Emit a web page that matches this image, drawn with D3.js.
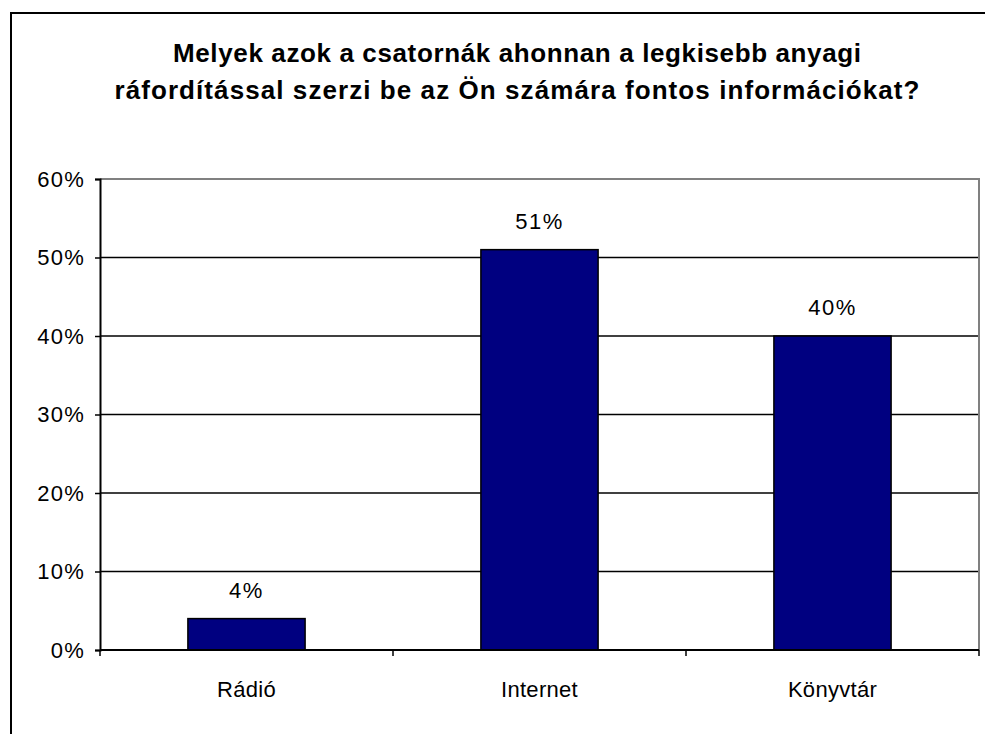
<!DOCTYPE html>
<html>
<head>
<meta charset="utf-8">
<script src="https://cdn.jsdelivr.net/npm/d3@7"></script>
<style>
  html, body { margin: 0; padding: 0; background: #fff; }
  svg { display: block; }
  text { font-family: "Liberation Sans", Arial, sans-serif; fill: #000; }
</style>
</head>
<body>
<svg id="chart" width="985" height="734"></svg>
<script>
// Survey answers: cheapest channels for getting important information
const categories = ["Rádió", "Internet", "Könyvtár"];
const values = [4, 51, 40];           // percent of respondents
const yTicks = [0, 10, 20, 30, 40, 50, 60];
const titleLines = [
  "Melyek azok a csatornák ahonnan a legkisebb anyagi",
  "ráfordítással szerzi be az Ön számára fontos információkat?"
];

const svg = d3.select("#chart");
const plot = { left: 100, right: 979, top: 179, bottom: 650 };

// outer chart frame (runs past the right and bottom edges)
svg.append("rect")
  .attr("x", 11).attr("y", 13)
  .attr("width", 1100).attr("height", 1000)
  .attr("fill", "#fff").attr("stroke", "#000").attr("stroke-width", 2);

// title, two centred bold lines
const titleSpec = [
  { y: 62, len: 688 },
  { y: 99, len: 805 }
];
titleLines.forEach((t, i) => {
  svg.append("text")
    .attr("x", 517).attr("y", titleSpec[i].y)
    .attr("text-anchor", "middle")
    .attr("font-family", "'Liberation Sans Narrow', 'Liberation Sans', Arial, sans-serif")
    .attr("font-size", 26).attr("font-weight", "bold")
    .attr("textLength", titleSpec[i].len)
    .attr("lengthAdjust", "spacing")
    .text(t);
});

const x = d3.scaleBand()
  .domain(categories)
  .range([plot.left, plot.right])
  .paddingInner(0.6).paddingOuter(0.3);

const xBounds = d3.scaleLinear().domain([0, categories.length]).range([plot.left, plot.right]);

const y = d3.scaleLinear().domain([0, 60]).range([plot.bottom, plot.top]);

// horizontal gridlines
svg.append("g")
  .selectAll("line")
  .data(yTicks.filter(d => d > 0 && d < 60))
  .join("line")
  .attr("x1", plot.left).attr("x2", plot.right)
  .attr("y1", d => y(d)).attr("y2", d => y(d))
  .attr("stroke", "#000").attr("stroke-width", 1.5);

// plot area border (top and right in grey)
svg.append("path")
  .attr("d", `M${plot.left},${y(60)}H${plot.right}V${plot.bottom}`)
  .attr("fill", "none").attr("stroke", "#808080").attr("stroke-width", 2);

// bars
svg.append("g")
  .selectAll("rect")
  .data(categories)
  .join("rect")
  .attr("x", d => x(d))
  .attr("width", x.bandwidth())
  .attr("y", (d, i) => y(values[i]))
  .attr("height", (d, i) => y(0) - y(values[i]))
  .attr("fill", "#000080")
  .attr("stroke", "#000").attr("stroke-width", 1.5);

// value labels
svg.append("g")
  .selectAll("text")
  .data(categories)
  .join("text")
  .attr("x", d => x(d) + x.bandwidth() / 2)
  .attr("y", (d, i) => y(values[i]) - 21)
  .attr("text-anchor", "middle")
  .attr("font-size", 22)
  .attr("letter-spacing", 1.5)
  .text((d, i) => values[i] + "%");

// y axis
const yAxis = d3.axisLeft(y)
  .tickValues(yTicks)
  .tickSize(5)
  .tickPadding(10)
  .tickFormat(d => d + "%");
const yG = svg.append("g")
  .attr("transform", `translate(${plot.left},0)`)
  .call(yAxis);
yG.select(".domain").attr("stroke", "#000").attr("stroke-width", 2);
yG.selectAll(".tick line").attr("stroke", "#000").attr("stroke-width", 1.5);
yG.selectAll(".tick text")
  .attr("font-size", 22)
  .attr("letter-spacing", 1.2)
  .attr("font-family", "Liberation Sans, Arial, sans-serif")
  .attr("fill", "#000");

// x axis line with ticks at category boundaries
const xG = svg.append("g");
xG.append("line")
  .attr("x1", plot.left).attr("x2", plot.right)
  .attr("y1", plot.bottom).attr("y2", plot.bottom)
  .attr("stroke", "#000").attr("stroke-width", 2);
xG.selectAll("line.tk")
  .data(d3.range(categories.length + 1))
  .join("line")
  .attr("class", "tk")
  .attr("x1", d => xBounds(d)).attr("x2", d => xBounds(d))
  .attr("y1", plot.bottom).attr("y2", plot.bottom + 6)
  .attr("stroke", "#000").attr("stroke-width", 1.5);
xG.selectAll("text")
  .data(categories)
  .join("text")
  .attr("x", d => x(d) + x.bandwidth() / 2)
  .attr("y", 697)
  .attr("text-anchor", "middle")
  .attr("font-size", 22)
  .attr("letter-spacing", 0.3)
  .text(d => d);
</script>
</body>
</html>
